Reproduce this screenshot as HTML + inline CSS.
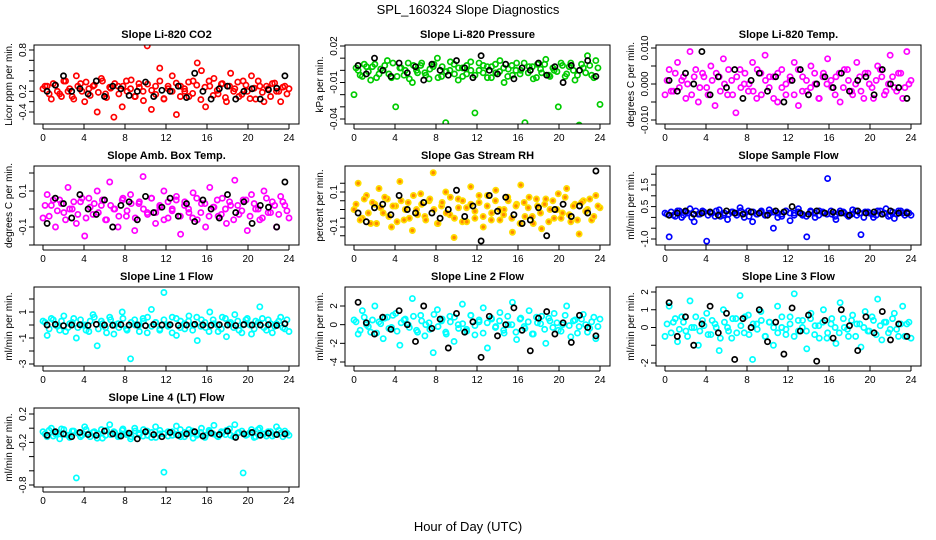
<!DOCTYPE html>
<html><head><meta charset="utf-8"><style>
body{margin:0;background:#fff;}
svg{display:block;font-family:"Liberation Sans",Arial,sans-serif;}
</style></head><body>
<svg id="c" width="936" height="540" xmlns="http://www.w3.org/2000/svg">
<text x="468" y="14" font-size="13" text-anchor="middle">SPL_160324  Slope Diagnostics</text>
<text x="468" y="531" font-size="13" text-anchor="middle">Hour of Day (UTC)</text>
</svg>
<script>
const hoursTicks=[0,4,8,12,16,20,24];
const co2=[0.05,0.1,-0.15,0.12,-0.05,0.2,0.0,-0.1,0.3,0.15,-0.2,0.05,0.1,-0.4,0.25,-0.05,0.08,-0.5,0.1,-0.3,0.2,0.05,-0.1,0.15,0.0,0.88,-0.35,0.1,0.45,-0.15,0.05,0.3,-0.45,0.1,0.0,-0.1,0.2,0.55,0.4,-0.3,0.1,0.25,-0.05,0.15,-0.2,0.35,0.05,-0.1,0.2,0.0,0.3,-0.15,0.1,-0.2,0.05,0.15,0.0,-0.2,0.1,0.05];
const co2B=[0.1,-0.05,0.15,0.0,-0.1,0.2,0.05,-0.15,0.1,0.0,0.18,-0.08,0.12,-0.02,0.2,-0.12,0.06,0.15,-0.05,0.1,0.0,0.22,-0.1,0.08,-0.18,0.14,0.02,-0.06,0.2,-0.14,0.1,0.0,0.16,-0.1,0.05,0.18,-0.04,0.12,-0.16,0.08,0.2,-0.08,0.02,0.14,-0.12,0.1,0.0,0.18,-0.06,0.12,-0.14,0.06,0.2,-0.02,0.1,-0.1,0.16,0.0,0.08,-0.05];
const co2K=[0.0,0.12,0.3,0.0,0.05,-0.05,0.2,-0.1,0.1,0.05,-0.08,0.0,0.18,-0.1,0.02,0.0,0.1,-0.12,0.35,0.0,-0.15,0.05,0.1,-0.15,0.0,0.05,-0.15,0.03,0.06,0.3];
const pres=[-0.02,0.0,-0.005,0.003,-0.008,0.005,-0.003,0.0,0.008,-0.006,-0.03,0.002,-0.004,0.006,-0.01,0.0,0.004,-0.002,-0.007,0.003,0.01,-0.005,-0.043,0.0,0.005,-0.008,0.002,-0.003,0.007,-0.035,0.0,0.004,-0.006,0.003,-0.002,0.008,-0.01,0.001,-0.004,0.006,0.0,-0.043,0.003,-0.007,0.005,-0.002,0.009,-0.005,0.0,-0.03,0.004,-0.003,0.006,-0.008,-0.045,0.002,0.012,-0.004,0.008,-0.028];
const presB=[0.002,-0.004,0.005,-0.001,0.003,-0.006,0.001,0.004,-0.003,0.006,-0.005,0.002,0.0,-0.007,0.004,-0.002,0.006,-0.004,0.001,0.005,-0.006,0.003,-0.001,0.007,-0.003,0.002,-0.005,0.004,0.0,-0.004,0.006,-0.002,0.003,-0.006,0.005,-0.001,0.002,-0.005,0.004,0.0,-0.003,0.006,-0.002,0.003,-0.006,0.001,0.005,-0.004,0.002,-0.001,0.006,-0.005,0.003,0.0,-0.004,0.005,-0.002,0.004,-0.006,0.002];
const presK=[0.004,-0.003,0.01,0.0,-0.005,0.006,-0.002,0.003,-0.008,0.005,0.0,-0.004,0.008,0.002,-0.006,0.012,0.0,-0.003,0.005,-0.007,0.002,0.0,0.006,-0.004,0.003,-0.01,0.004,0.0,0.008,-0.005];
const temp=[-0.003,0.004,-0.002,0.006,0.001,-0.004,0.009,0.002,-0.005,0.003,-0.001,0.005,-0.006,0.002,0.007,-0.003,0.001,-0.008,0.004,0.0,-0.002,0.006,-0.004,0.003,0.008,-0.001,0.002,-0.005,0.004,-0.003,0.001,0.006,-0.006,0.002,-0.002,0.005,0.0,-0.004,0.003,0.007,-0.001,0.002,-0.005,0.004,0.001,-0.003,0.006,-0.002,0.003,0.0,-0.004,0.005,0.002,-0.002,0.008,-0.001,0.003,-0.004,0.009,0.001];
const tempB=[0.001,-0.002,0.003,-0.001,0.002,0.0,-0.003,0.004,-0.001,0.002,-0.003,0.001,0.003,-0.002,0.0,0.004,-0.003,0.002,-0.001,0.003,0.0,-0.002,0.004,-0.003,0.001,0.002,-0.004,0.003,-0.001,0.0,0.002,-0.003,0.004,-0.002,0.001,-0.001,0.003,-0.004,0.002,0.0,0.001,-0.003,0.003,-0.001,0.004,-0.002,0.0,0.002,-0.004,0.003,-0.001,0.001,0.004,-0.003,0.0,0.002,-0.002,0.003,-0.001,0.0];
const tempK=[0.001,-0.002,0.003,0.0,0.009,-0.003,0.002,-0.001,0.004,-0.004,0.001,0.003,-0.002,0.002,-0.005,0.001,0.004,-0.003,0.0,0.002,-0.001,0.003,-0.002,0.001,0.002,-0.003,0.004,0.0,-0.001,-0.004];
const amb=[-0.05,0.08,0.02,-0.1,0.05,-0.02,0.12,0.0,-0.08,0.04,-0.15,0.06,-0.03,0.1,0.02,-0.06,0.15,0.0,-0.1,0.05,-0.04,0.08,-0.12,0.03,0.18,-0.02,0.06,-0.08,0.02,0.1,-0.05,0.0,0.07,-0.14,0.04,-0.02,0.09,-0.06,0.03,-0.1,0.12,0.01,-0.04,0.06,-0.08,0.02,0.16,-0.03,0.05,-0.12,0.08,0.0,-0.06,0.1,-0.02,0.04,-0.1,0.07,0.02,-0.05];
const ambB=[0.02,-0.04,0.05,-0.01,0.03,-0.06,0.0,0.04,-0.03,0.06,-0.05,0.01,0.03,-0.02,0.05,-0.06,0.02,0.0,-0.04,0.06,-0.01,0.03,-0.05,0.04,0.0,-0.03,0.06,-0.02,0.01,-0.06,0.04,-0.01,0.05,-0.04,0.02,0.0,-0.05,0.06,-0.02,0.03,-0.04,0.01,0.05,-0.03,0.0,0.04,-0.06,0.02,-0.01,0.05,-0.04,0.03,0.0,-0.05,0.06,-0.02,0.02,-0.03,0.04,-0.01];
const ambK=[-0.08,0.06,0.03,-0.05,0.08,0.0,-0.03,0.05,-0.1,0.02,0.04,-0.06,0.07,-0.02,0.01,0.06,-0.04,0.03,-0.07,0.05,0.0,-0.05,0.08,-0.02,0.04,-0.08,0.02,0.01,-0.1,0.15];
const rh=[0.0,0.15,-0.05,0.08,-0.08,0.03,0.12,-0.02,0.06,-0.1,0.02,0.16,-0.06,0.04,-0.12,0.0,0.09,-0.04,0.05,0.21,-0.08,0.02,0.1,-0.03,-0.16,0.06,-0.07,0.01,0.13,-0.05,0.04,-0.1,0.08,-0.02,0.11,-0.06,0.0,0.05,-0.13,0.03,0.14,-0.04,0.07,-0.08,0.02,-0.11,0.06,0.0,-0.05,0.09,-0.02,0.12,-0.07,0.03,-0.14,0.05,0.0,-0.06,0.08,0.01];
const rhB=[0.03,-0.06,0.06,-0.02,0.04,-0.08,0.01,0.07,-0.04,0.02,-0.07,0.05,0.0,-0.05,0.08,-0.03,0.03,-0.06,0.06,0.0,-0.08,0.04,-0.02,0.07,-0.05,0.01,0.05,-0.07,0.03,-0.01,0.08,-0.04,0.02,-0.06,0.05,0.0,-0.03,0.07,-0.05,0.02,-0.08,0.04,0.01,-0.04,0.06,-0.02,0.03,-0.07,0.05,0.0,-0.05,0.07,-0.03,0.02,-0.06,0.04,-0.01,0.06,-0.04,0.02];
const rhK=[-0.02,-0.07,0.01,0.03,-0.03,0.08,0.0,-0.02,0.04,-0.02,-0.05,0.0,0.11,-0.04,0.02,-0.18,0.08,-0.01,0.07,-0.03,-0.08,-0.06,0.01,-0.15,0.0,0.03,-0.04,0.02,-0.02,0.22];
const flow=[0.2,-0.9,0.1,0.3,0.0,0.25,0.4,-0.2,0.15,0.3,-1.1,0.2,0.05,0.35,0.1,-0.1,0.25,0.2,0.45,0.0,0.3,-0.2,0.15,0.25,0.1,0.35,-0.5,0.2,0.05,0.3,-0.15,0.2,0.4,0.1,-0.9,0.25,0.0,0.3,0.2,1.8,0.15,-0.1,0.3,0.2,0.05,0.35,0.1,-0.8,0.25,0.2,0.0,0.3,0.15,0.4,0.1,-0.05,0.3,0.2,0.25,0.1];
const flowB=[0.15,0.25,0.05,0.3,0.1,0.2,0.0,0.3,0.15,0.25,0.1,0.2,0.3,0.05,0.2,0.15,0.25,0.1,0.3,0.2,0.05,0.25,0.15,0.3,0.1,0.2,0.25,0.0,0.15,0.3,0.2,0.1,0.25,0.15,0.05,0.3,0.2,0.1,0.25,0.15,0.3,0.05,0.2,0.25,0.1,0.15,0.3,0.2,0.0,0.25,0.15,0.1,0.3,0.2,0.05,0.25,0.15,0.3,0.1,0.2];
const flowK=[0.1,0.2,0.3,0.15,0.2,0.25,0.1,0.3,0.2,0.15,0.25,0.2,0.1,0.3,0.25,0.5,0.2,0.15,0.3,0.2,0.25,0.2,0.1,0.3,0.2,0.25,0.15,0.3,0.2,0.2];
const l1=[0.3,-0.8,0.5,0.0,-0.4,0.7,-0.2,0.2,-1.0,0.4,0.0,-0.5,0.8,-1.6,0.3,-0.2,0.6,-0.7,0.1,1.0,-0.3,-2.6,0.4,0.0,0.5,-0.6,1.2,0.2,-0.4,2.5,-0.1,0.6,-0.8,0.3,-0.3,0.7,0.0,-1.2,0.4,-0.2,1.0,0.1,-0.5,0.6,-0.9,0.2,0.8,-0.4,0.0,0.5,-0.7,0.3,1.4,-0.2,0.4,-0.6,0.1,0.6,-0.3,-0.5];
const l1B=[0.2,-0.3,0.4,-0.1,0.3,-0.5,0.1,0.5,-0.2,0.0,-0.4,0.3,0.6,-0.3,0.1,-0.6,0.4,0.0,-0.2,0.5,-0.4,0.2,0.0,-0.5,0.3,0.6,-0.1,0.2,-0.3,0.4,0.0,-0.6,0.5,-0.2,0.1,0.3,-0.4,0.6,-0.1,0.2,-0.5,0.4,0.0,-0.3,0.5,0.1,-0.2,0.3,-0.6,0.4,0.0,-0.3,0.2,0.5,-0.4,0.1,-0.1,0.3,-0.2,0.4];
const l1K=[0.0,0.05,-0.05,0.0,0.02,-0.03,0.05,0.0,-0.02,0.03,0.0,0.0,-0.05,0.04,0.0,0.02,-0.03,0.0,0.05,0.0,-0.02,0.02,0.0,-0.04,0.03,0.0,0.0,0.02,-0.03,0.1];
const l2=[0.5,-1.0,1.5,0.0,-0.8,2.0,0.3,-1.5,0.8,-0.3,1.2,-2.2,0.5,0.0,2.8,-0.6,1.0,-1.2,0.2,-3.0,1.6,0.4,-0.8,0.9,-1.8,0.0,2.2,-0.5,1.0,-1.1,0.3,1.8,-2.5,0.6,-0.2,1.3,-0.9,0.0,2.4,-1.6,0.7,-0.4,1.5,-1.0,0.2,0.9,-2.0,0.4,1.2,-0.6,0.0,2.0,-1.3,0.5,-0.2,1.1,-0.8,0.3,-1.5,0.6];
const l2B=[0.3,-0.6,0.8,-0.2,0.5,-0.9,0.1,0.7,-0.4,1.0,-0.7,0.2,0.6,-0.3,0.9,-0.8,0.4,0.0,-0.5,1.1,-0.2,0.6,-1.0,0.3,0.8,-0.4,0.1,-0.7,1.0,-0.1,0.5,-0.9,0.2,0.7,-0.3,0.4,-0.6,0.9,0.0,-0.8,0.6,-0.2,0.3,-1.0,0.8,0.1,-0.5,0.7,-0.3,0.2,-0.7,1.0,-0.1,0.4,-0.9,0.6,0.0,-0.4,0.8,-0.2];
const l2K=[2.4,0.2,-1.0,0.8,-0.5,1.5,0.0,-1.8,2.0,-0.4,0.6,-2.5,1.2,-0.8,0.3,-3.5,0.9,-1.2,0.0,1.8,-0.6,-2.8,0.7,1.4,-1.0,0.2,-1.9,1.0,-0.3,-1.2];
const l3=[-0.5,1.2,0.3,-0.8,0.6,-0.2,1.5,0.0,-1.0,0.4,0.8,-0.4,0.2,-1.3,1.0,0.0,-0.6,0.5,1.8,-0.3,0.7,-1.8,0.2,0.9,-0.5,0.3,-1.0,1.2,0.0,-0.4,0.6,1.9,-0.2,0.4,-1.2,0.8,0.1,-0.6,1.0,-0.3,0.5,-0.9,1.4,0.0,-0.5,0.7,0.2,-1.1,0.9,-0.2,0.4,1.6,-0.7,0.3,-0.1,0.8,-0.5,1.2,0.2,-0.6];
const l3B=[0.2,-0.3,0.5,-0.1,0.3,-0.5,0.0,0.6,-0.2,0.1,-0.4,0.4,0.0,-0.6,0.3,-0.2,0.5,-0.3,0.1,0.6,-0.4,0.2,-0.1,0.4,-0.5,0.3,0.0,-0.3,0.6,-0.1,0.2,-0.5,0.4,0.0,-0.2,0.5,-0.4,0.1,0.3,-0.6,0.2,0.0,-0.3,0.5,-0.1,0.4,-0.5,0.2,0.0,-0.2,0.6,-0.4,0.1,0.3,-0.3,0.5,-0.1,0.2,-0.5,0.3];
const l3K=[1.4,-0.5,0.6,-1.0,0.2,1.2,-0.3,0.8,-1.8,0.5,0.0,1.0,-0.8,0.3,-1.5,1.1,-0.2,0.7,-1.9,0.4,-0.6,1.0,0.1,-1.3,0.6,-0.3,0.9,-0.7,0.2,-0.5];
const l4=[-0.05,-0.12,0.0,-0.08,-0.15,-0.02,-0.1,-0.04,-0.7,-0.12,0.02,-0.08,-0.06,-0.14,-0.02,-0.1,0.05,-0.05,-0.12,-0.03,-0.09,-0.15,0.0,-0.07,-0.11,-0.04,-0.13,0.02,-0.08,-0.62,-0.05,-0.1,0.03,-0.12,-0.06,-0.02,-0.14,-0.08,0.0,-0.1,-0.05,0.04,-0.12,-0.07,-0.03,-0.1,0.05,-0.06,-0.63,-0.09,-0.02,-0.12,0.0,-0.08,-0.05,-0.11,0.02,-0.07,-0.04,-0.1];
const l4B=[-0.08,-0.03,-0.11,-0.06,-0.01,-0.09,-0.13,-0.04,-0.07,-0.1,-0.02,-0.12,-0.05,-0.08,-0.14,-0.03,-0.09,-0.06,-0.11,-0.01,-0.07,-0.12,-0.04,-0.09,-0.02,-0.1,-0.06,-0.13,-0.03,-0.08,-0.11,-0.05,-0.09,-0.02,-0.12,-0.07,-0.04,-0.1,-0.06,-0.13,-0.03,-0.08,-0.11,-0.05,-0.09,-0.01,-0.12,-0.07,-0.04,-0.1,-0.06,-0.13,-0.02,-0.08,-0.11,-0.05,-0.09,-0.03,-0.12,-0.07];
const l4K=[-0.1,-0.05,-0.08,-0.12,-0.06,-0.09,-0.1,-0.04,-0.08,-0.11,-0.07,-0.15,-0.05,-0.09,-0.12,-0.06,-0.1,-0.08,-0.05,-0.11,-0.07,-0.09,-0.04,-0.13,-0.08,-0.06,-0.1,-0.07,-0.09,-0.08];
const yTicks1=[-0.4,-0.2,0,0.2,0.4,0.6,0.8], yLab1=["-0.4","","0.2","","","","0.8"];
const yTicks2=[-0.04,-0.03,-0.02,-0.01,0,0.01,0.02], yLab2=["-0.04","","","-0.01","","","0.02"];
const yTicks3=[-0.01,-0.005,0,0.005,0.01], yLab3=["-0.010","","0.000","","0.010"];
const yTicks4=[-0.2,-0.1,0,0.1,0.2], yLab4=["","-0.1","","0.1",""];
const yTicks5=[-0.15,-0.1,-0.05,0,0.05,0.1,0.15], yLab5=["","-0.1","","","","0.1",""];
const yTicks6=[-1,-0.5,0,0.5,1,1.5,2], yLab6=["-1.0","","","0.5","","1.5",""];
const yTicks7=[-3,-2,-1,0,1,2], yLab7=["-3","","-1","","1",""];
const yTicks8=[-4,-2,0,2], yLab8=["-4","-2","0","2"];
const yTicks9=[-2,-1,0,1,2], yLab9=["-2","","0","1","2"];
const yTicks10=[-0.8,-0.6,-0.4,-0.2,0,0.2], yLab10=["-0.8","","","-0.2","","0.2"];

const svg=document.getElementById('c');
const NS='http://www.w3.org/2000/svg';
function mk(tag,attrs,parent){const e=document.createElementNS(NS,tag);for(const k in attrs)e.setAttribute(k,attrs[k]);(parent||svg).appendChild(e);return e;}
const colX=[34,345,656], rowY=[45,166,287,408], W=265, H=79;
const panels=[
 {t:"Slope Li-820 CO2",yl:"Licor ppm per min.",c:0,r:0,v:co2,bv:co2B,k:co2K,ticks:yTicks1,labs:yLab1,a:[0.8,50],b:[-0.4,112],col:"#ff0000",fill:"none"},
 {t:"Slope Li-820 Pressure",yl:"kPa per min.",c:1,r:0,v:pres,bv:presB,k:presK,ticks:yTicks2,labs:yLab2,a:[0.02,46],b:[-0.04,119],col:"#00cc00",fill:"none"},
 {t:"Slope Li-820 Temp.",yl:"degrees C per min.",c:2,r:0,v:temp,bv:tempB,k:tempK,ticks:yTicks3,labs:yLab3,a:[0.01,48],b:[-0.01,120],col:"#ff00ff",fill:"none"},
 {t:"Slope Amb. Box Temp.",yl:"degrees C per min.",c:0,r:1,v:amb,bv:ambB,k:ambK,ticks:yTicks4,labs:yLab4,a:[0.1,191],b:[-0.1,227],col:"#ff00ff",fill:"none"},
 {t:"Slope Gas Stream RH",yl:"percent per min.",c:1,r:1,v:rh,bv:rhB,k:rhK,ticks:yTicks5,labs:yLab5,a:[0.1,192],b:[-0.1,227],col:"#ffdd00",fill:"#ff8800"},
 {t:"Slope Sample Flow",yl:"ml/min per min.",c:2,r:1,v:flow,bv:flowB,k:flowK,ticks:yTicks6,labs:yLab6,a:[1.5,185],b:[-1.0,239],col:"#0000ff",fill:"none"},
 {t:"Slope Line 1 Flow",yl:"ml/min per min.",c:0,r:2,v:l1,bv:l1B,k:l1K,ticks:yTicks7,labs:yLab7,a:[1,312],b:[-3,364],col:"#00ffff",fill:"none"},
 {t:"Slope Line 2 Flow",yl:"ml/min per min.",c:1,r:2,v:l2,bv:l2B,k:l2K,ticks:yTicks8,labs:yLab8,a:[2,306],b:[-4,362],col:"#00ffff",fill:"none"},
 {t:"Slope Line 3 Flow",yl:"ml/min per min.",c:2,r:2,v:l3,bv:l3B,k:l3K,ticks:yTicks9,labs:yLab9,a:[2,292],b:[-2,363],col:"#00ffff",fill:"none"},
 {t:"Slope Line 4 (LT) Flow",yl:"ml/min per min.",c:0,r:3,v:l4,bv:l4B,k:l4K,ticks:yTicks10,labs:yLab10,a:[0.2,414],b:[-0.8,485],col:"#00ffff",fill:"none"}
];
panels.forEach((p,pi)=>{
  const x0=colX[p.c], y0=rowY[p.r];
  const g=mk('g',{});
  
  
  const xs=h=>x0+9+h*(246/24);
  const ys=v=>p.a[1]+(v-p.a[0])*(p.b[1]-p.a[1])/(p.b[0]-p.a[0]);
  const clip='cl'+pi;
  const cp=mk('clipPath',{id:clip},g);mk('rect',{x:x0,y:y0,width:W,height:H},cp);
  const pts=mk('g',{'clip-path':'url(#'+clip+')'},g);
  const drawSeries=(arr,off,col,fill,name)=>{
    arr.forEach((v,i)=>{
      const h=off+i*(24-2*off)/(arr.length-1);
      const e=mk('circle',{cx:xs(h),cy:ys(v),r:2.6,fill:fill,stroke:col,'stroke-width':1.7},pts);
      
      
    });
  };
  drawSeries(p.v,0,p.col,p.fill,'point');
  drawSeries(p.bv,0.2,p.col,p.fill,'point');
  drawSeries(p.k,0.4,'#000','none','point-black');
  mk('rect',{x:x0,y:y0,width:W,height:H,fill:'none',stroke:'#000','stroke-width':1},g);
  const tt=mk('text',{x:x0+W/2,y:y0-7,'font-size':11,'font-weight':'bold','text-anchor':'middle'},g);
  tt.textContent=p.t;
  
  
  hoursTicks.forEach(h=>{
    mk('line',{x1:xs(h),x2:xs(h),y1:y0+H,y2:y0+H+5,stroke:'#000'},g);
    const t=mk('text',{x:xs(h),y:y0+H+17,'font-size':10,'text-anchor':'middle'},g);
    t.textContent=h;
    
    
  });
  mk('line',{x1:xs(0),x2:xs(24),y1:y0+H+5,y2:y0+H+5,stroke:'#000'},g);
  p.ticks.forEach((v,i)=>{
    const y=ys(v);
    mk('line',{x1:x0-5,x2:x0,y1:y,y2:y,stroke:'#000'},g);
    if(p.labs[i]){
      const t=mk('text',{x:x0-8,y:y,'font-size':10,'text-anchor':'middle',transform:'rotate(-90 '+(x0-8)+' '+y+')'},g);
      t.textContent=p.labs[i];
      
      
    }
  });
  const yc=y0+H/2, xl=x0-22;
  const yl=mk('text',{x:xl,y:yc,'font-size':10,'text-anchor':'middle',transform:'rotate(-90 '+xl+' '+yc+')'},g);
  yl.textContent=p.yl;
  
  
});
</script>
</body></html>
